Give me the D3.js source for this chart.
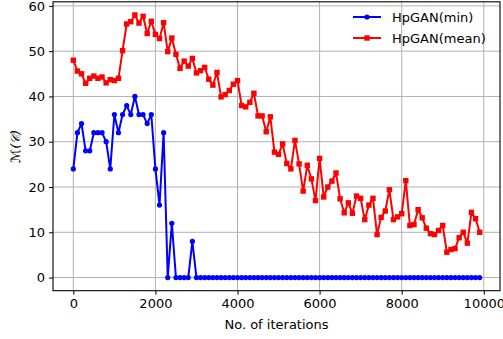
<!DOCTYPE html>
<html>
<head>
<meta charset="utf-8">
<script src="https://cdn.jsdelivr.net/npm/d3@7"></script>
<style>
  html, body { margin: 0; padding: 0; background: #fff; }
  svg { display: block; font-family: "DejaVu Sans", sans-serif; }
</style>
</head>
<body>
<svg id="chart" width="503" height="339"></svg>
<script>
// ---- data ----
const iterations = d3.range(0, 10000, 100);
const minValues = [
  24, 32, 34, 28, 28, 32, 32, 32, 30, 24,
  36, 32, 36, 38, 36, 40, 36, 36, 34, 36,
  24, 16, 32, 0, 12, 0, 0, 0, 0, 8,
  0, 0, 0, 0, 0, 0, 0, 0, 0, 0,
  0, 0, 0, 0, 0, 0, 0, 0, 0, 0,
  0, 0, 0, 0, 0, 0, 0, 0, 0, 0,
  0, 0, 0, 0, 0, 0, 0, 0, 0, 0,
  0, 0, 0, 0, 0, 0, 0, 0, 0, 0,
  0, 0, 0, 0, 0, 0, 0, 0, 0, 0,
  0, 0, 0, 0, 0, 0, 0, 0, 0, 0
];
const meanValues = [
  48.0, 45.6, 45.0, 42.9, 44.0, 44.5, 44.0, 44.3, 43.0, 43.7,
  43.5, 44.0, 50.1, 56.0, 56.5, 58.0, 56.2, 57.7, 53.9, 56.6,
  53.7, 52.8, 56.3, 49.9, 52.9, 49.3, 46.2, 47.8, 46.7, 48.4,
  45.2, 45.7, 46.4, 43.8, 42.5, 45.3, 39.9, 40.4, 41.3, 42.7,
  43.5, 38.0, 37.7, 38.7, 40.7, 35.7, 35.7, 32.2, 35.5, 27.7,
  27.2, 29.5, 25.2, 24.0, 30.3, 25.1, 19.1, 24.8, 21.8, 17.0,
  26.3, 17.8, 20.0, 21.3, 23.1, 17.4, 14.3, 16.5, 14.2, 18.0,
  17.5, 12.8, 16.0, 17.5, 9.5, 13.3, 14.7, 19.4, 12.8, 13.4,
  14.1, 21.4, 11.5, 11.7, 15.0, 13.2, 10.9, 9.7, 9.5, 10.4,
  11.5, 5.6, 6.2, 6.4, 8.8, 10.0, 7.6, 14.4, 13.0, 10.0
];
const xTicks = [0, 2000, 4000, 6000, 8000, 10000];
const yTicks = [0, 10, 20, 30, 40, 50, 60];
const seriesNames = ["HpGAN(min)", "HpGAN(mean)"];
const seriesColors = ["#0000ff", "#ff0000"];
const xLabel = "No. of iterations";
const yLabel = "\u2133(\uD835\uDC9E)";

// ---- layout ----
const svg = d3.select("#chart");
const L = 53, R = 500, T = 1.8, B = 290.7;
const x = d3.scaleLinear().domain([-495, 10395]).range([L, R]);
const y = d3.scaleLinear().domain([-2.9, 60.9]).range([B, T]);
const fs = 13;

// grid
const grid = svg.append("g");
grid.selectAll("line.gx").data(xTicks).join("line")
  .attr("x1", d => x(d)).attr("x2", d => x(d)).attr("y1", T).attr("y2", B)
  .attr("stroke", "#b0b0b0").attr("stroke-width", 1);
grid.selectAll("line.gy").data(yTicks).join("line")
  .attr("x1", L).attr("x2", R).attr("y1", d => y(d)).attr("y2", d => y(d))
  .attr("stroke", "#b0b0b0").attr("stroke-width", 1);

// axes
const xAxis = svg.append("g").attr("transform", `translate(0,${B})`)
  .call(d3.axisBottom(x).tickValues(xTicks).tickSize(4).tickPadding(4).tickFormat(d3.format("d")));
const yAxis = svg.append("g").attr("transform", `translate(${L},0)`)
  .call(d3.axisLeft(y).tickValues(yTicks).tickSize(4).tickPadding(4).tickFormat(d3.format("d")));
[xAxis, yAxis].forEach(a => {
  a.select(".domain").remove();
  a.selectAll("text").attr("font-size", fs).attr("font-family", "DejaVu Sans").attr("fill", "#000");
  a.selectAll("line").attr("stroke", "#000").attr("stroke-width", 1);
});

// frame
svg.append("rect").attr("x", L).attr("y", T).attr("width", R - L).attr("height", B - T)
  .attr("fill", "none").attr("stroke", "#000").attr("stroke-width", 1.1);

// lines
const minData = iterations.map((it, i) => [it, minValues[i]]);
const meanData = iterations.map((it, i) => [it, meanValues[i]]);
const line = d3.line().x(d => x(d[0])).y(d => y(d[1]));

svg.append("path").datum(minData).attr("d", line)
  .attr("fill", "none").attr("stroke", seriesColors[0]).attr("stroke-width", 2).attr("stroke-linejoin", "round");
svg.append("g").selectAll("circle").data(minData).join("circle")
  .attr("cx", d => x(d[0])).attr("cy", d => y(d[1])).attr("r", 2.6).attr("fill", seriesColors[0]);

svg.append("path").datum(meanData).attr("d", line)
  .attr("fill", "none").attr("stroke", seriesColors[1]).attr("stroke-width", 2).attr("stroke-linejoin", "round");
svg.append("g").selectAll("rect").data(meanData).join("rect")
  .attr("x", d => x(d[0]) - 2.7).attr("y", d => y(d[1]) - 2.7).attr("width", 5.4).attr("height", 5.4)
  .attr("fill", seriesColors[1]);

// labels
svg.append("text").attr("x", (L + R) / 2).attr("y", 329).attr("text-anchor", "middle")
  .attr("font-size", fs).text(xLabel);
svg.append("text").attr("transform", `translate(20,${(T + B) / 2}) rotate(-90)`)
  .attr("text-anchor", "middle").attr("font-size", fs).attr("font-style", "italic").text(yLabel);

// legend
const leg = svg.append("g");
seriesNames.forEach((name, i) => {
  const ly = 17 + i * 21;
  leg.append("line").attr("x1", 353).attr("x2", 381).attr("y1", ly).attr("y2", ly)
    .attr("stroke", seriesColors[i]).attr("stroke-width", 2);
  if (i === 0) {
    leg.append("circle").attr("cx", 367).attr("cy", ly).attr("r", 2.6).attr("fill", seriesColors[i]);
  } else {
    leg.append("rect").attr("x", 367 - 2.7).attr("y", ly - 2.7).attr("width", 5.4).attr("height", 5.4).attr("fill", seriesColors[i]);
  }
  leg.append("text").attr("x", 392).attr("y", ly + 4.6).attr("font-size", fs).text(name);
});
</script>
</body>
</html>
